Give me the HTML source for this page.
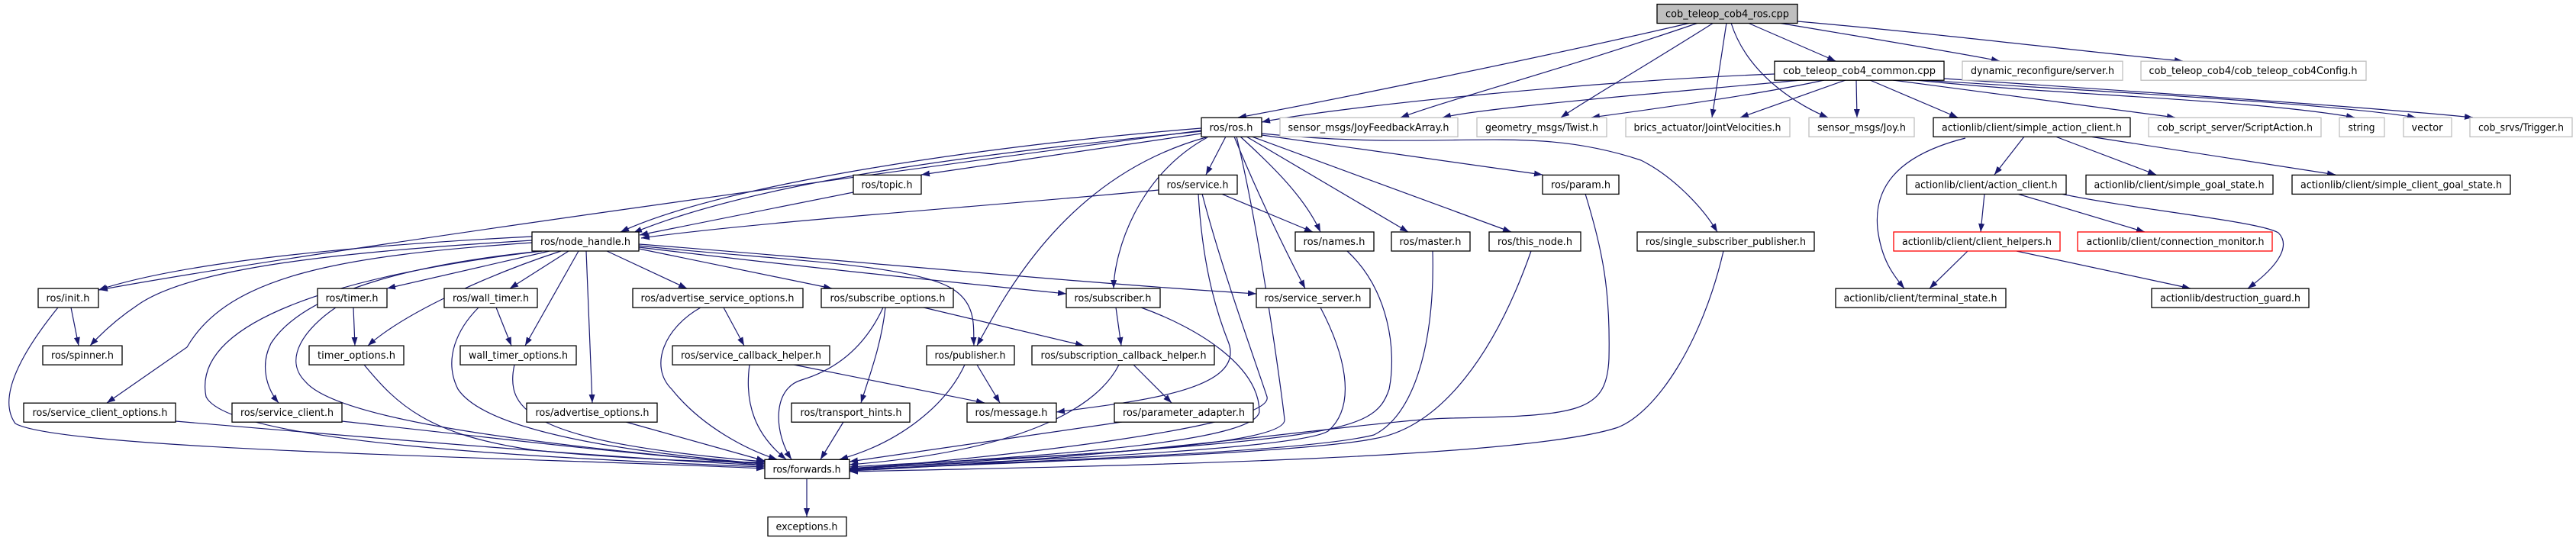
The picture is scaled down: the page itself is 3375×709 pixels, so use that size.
<!DOCTYPE html>
<html><head><meta charset="utf-8"><style>
html,body{margin:0;padding:0;background:#fff;}
svg{display:block;}
text{font-family:"DejaVu Sans","Liberation Sans",sans-serif;font-size:13px;fill:#000;}
.n{fill:#fff;stroke:#000;stroke-width:1.3;}
.g{fill:#fff;stroke:#bfbfbf;stroke-width:1.3;}
.r{fill:#fff;stroke:#ff0000;stroke-width:1.3;}
.e{fill:none;stroke:#191970;stroke-width:1.2;marker-end:url(#a);}
</style></head><body>
<svg width="3375" height="709" viewBox="0 0 3375 709" xmlns="http://www.w3.org/2000/svg">
<defs><marker id="a" markerUnits="userSpaceOnUse" markerWidth="11" markerHeight="8" refX="11" refY="4" orient="auto"><path d="M0,0 L11,4 L0,8 z" fill="#191970"/></marker></defs>
<g>
<!-- top -->
<path class="e" d="M2215,30 C2000,80 1700,140 1622,154"/>
<path class="e" d="M2225,30 C2050,90 1900,130 1835,154"/>
<path class="e" d="M2245,30 C2150,90 2080,130 2045,154"/>
<path class="e" d="M2262,30 L2243,154"/>
<path class="e" d="M2268,30 C2290,100 2360,140 2395,154"/>
<path class="e" d="M2290,30 L2405,80"/>
<path class="e" d="M2330,30 C2450,50 2570,70 2620,80"/>
<path class="e" d="M2355,28 C2550,45 2750,70 2860,80"/>
<!-- common -->
<path class="e" d="M2325,97 C2100,105 1750,140 1653,160"/>
<path class="e" d="M2360,105 C2200,120 1950,140 1890,154"/>
<path class="e" d="M2390,105 C2300,125 2150,145 2085,154"/>
<path class="e" d="M2418,105 L2280,154"/>
<path class="e" d="M2432,105 L2433,154"/>
<path class="e" d="M2450,105 L2565,154"/>
<path class="e" d="M2480,105 L2850,154"/>
<path class="e" d="M2510,105 C2700,125 2950,130 3085,154"/>
<path class="e" d="M2520,105 C2750,120 3050,135 3165,154"/>
<path class="e" d="M2547,103 C2800,120 3100,140 3240,154"/>
<!-- actionlib -->
<path class="e" d="M2652,179 L2613,229"/>
<path class="e" d="M2693,179 L2825,229"/>
<path class="e" d="M2738,179 L3060,229"/>
<path class="e" d="M2575,181 C2480,205 2455,250 2460,300 C2465,340 2480,360 2495,378"/>
<path class="e" d="M2600,254 L2595,304"/>
<path class="e" d="M2643,254 L2810,304"/>
<path class="e" d="M2700,254 C2800,275 2960,290 2985,305 C3000,320 2990,345 2945,378"/>
<path class="e" d="M2578,329 L2528,378"/>
<path class="e" d="M2642,329 L2870,378"/>
<!-- ros.h -->
<path class="e" d="M1574,171 C1200,220 400,330 130,380"/>
<path class="e" d="M1574,168 C1300,190 950,240 813,304"/>
<path class="e" d="M1574,172 C1300,200 1000,235 830,305"/>
<path class="e" d="M1574,175 L1207,229"/>
<path class="e" d="M1606,179 L1580,229"/>
<path class="e" d="M1580,180 C1400,230 1320,380 1280,453"/>
<path class="e" d="M1582,180 C1490,230 1460,330 1459,378"/>
<path class="e" d="M1625,179 C1670,220 1710,260 1730,304"/>
<path class="e" d="M1633,179 L1845,304"/>
<path class="e" d="M1640,179 L1980,304"/>
<path class="e" d="M1653,177 L2021,229"/>
<path class="e" d="M1653,175 C1900,200 2000,160 2150,210 C2190,230 2230,270 2250,304"/>
<path class="e" d="M1617,179 C1650,260 1690,340 1710,378"/>
<path class="e" d="M1620,179 C1650,300 1680,520 1683,550 C1685,590 1300,600 1113,612"/>
<!-- topic/service -->
<path class="e" d="M1118,252 L838,308"/>
<path class="e" d="M1518,249 C1300,270 1000,290 840,312"/>
<path class="e" d="M1600,254 L1720,304"/>
<path class="e" d="M1570,254 C1575,340 1590,400 1610,450 C1630,510 1500,525 1384,540"/>
<path class="e" d="M1575,254 C1600,350 1640,460 1660,520 C1670,560 1300,600 1113,615"/>
<!-- node_handle -->
<path class="e" d="M697,310 C500,320 250,340 129,380"/>
<path class="e" d="M697,315 C450,330 250,350 180,400 C150,420 130,440 118,453"/>
<path class="e" d="M697,318 C450,335 300,360 245,455 L140,528"/>
<path class="e" d="M710,329 C550,345 400,380 355,450 C340,480 350,510 365,528"/>
<path class="e" d="M720,329 L507,378"/>
<path class="e" d="M735,329 C640,360 530,410 482,453"/>
<path class="e" d="M745,329 L668,378"/>
<path class="e" d="M758,329 L688,453"/>
<path class="e" d="M768,329 L776,528"/>
<path class="e" d="M795,329 L900,378"/>
<path class="e" d="M837,326 L1090,378"/>
<path class="e" d="M837,322 C1000,340 1200,345 1250,380 C1280,400 1275,430 1276,453"/>
<path class="e" d="M837,324 C1050,350 1250,370 1397,385"/>
<path class="e" d="M837,320 C1100,340 1400,370 1646,385"/>
<path class="e" d="M710,329 C450,360 250,420 270,520 C300,580 700,600 1002,612"/>
<!-- lower -->
<path class="e" d="M93,403 L103,453"/>
<path class="e" d="M76,403 C30,460 -5,520 20,555 C80,590 700,600 1002,614"/>
<path class="e" d="M463,403 L465,453"/>
<path class="e" d="M440,403 C400,430 370,470 400,500 C450,560 800,590 1002,610"/>
<path class="e" d="M650,403 L670,453"/>
<path class="e" d="M627,403 C600,430 580,470 600,510 C640,570 850,595 1002,608"/>
<path class="e" d="M477,478 C520,530 560,570 700,590 C800,600 900,605 1002,606"/>
<path class="e" d="M674,478 C660,540 700,580 1002,605"/>
<path class="e" d="M230,552 C500,575 800,600 1002,610"/>
<path class="e" d="M448,552 C700,580 850,598 1002,608"/>
<path class="e" d="M820,553 L1002,604"/>
<path class="e" d="M948,403 L975,453"/>
<path class="e" d="M918,403 C870,430 850,480 880,510 C920,560 980,590 1018,602"/>
<path class="e" d="M1160,403 C1155,450 1140,490 1128,528"/>
<path class="e" d="M1210,403 L1420,453"/>
<path class="e" d="M1157,403 C1140,440 1110,480 1050,498 C1010,510 1015,570 1037,602"/>
<path class="e" d="M982,478 C975,530 990,570 1030,602"/>
<path class="e" d="M1040,478 L1290,528"/>
<path class="e" d="M1280,478 L1310,528"/>
<path class="e" d="M1264,478 C1240,530 1180,580 1100,602"/>
<path class="e" d="M1462,403 L1469,453"/>
<path class="e" d="M1495,403 C1570,430 1650,480 1650,540 C1640,585 1300,600 1113,614"/>
<path class="e" d="M1485,478 L1535,528"/>
<path class="e" d="M1466,478 C1440,530 1350,590 1113,609"/>
<path class="e" d="M1470,553 L1113,605"/>
<path class="e" d="M1105,553 L1075,602"/>
<path class="e" d="M1730,403 C1760,460 1780,530 1740,565 C1700,590 1300,605 1113,614"/>
<path class="e" d="M1765,329 C1820,380 1830,460 1820,510 C1800,570 1750,575 1113,615"/>
<path class="e" d="M1877,329 C1880,430 1860,540 1800,570 C1700,595 1300,605 1113,616"/>
<path class="e" d="M2006,329 C1960,460 1890,560 1800,575 C1700,595 1300,607 1113,616"/>
<path class="e" d="M2077,254 C2100,330 2110,380 2108,470 C2105,540 2070,545 1900,548 C1800,550 1500,600 1113,617"/>
<path class="e" d="M2258,329 C2230,450 2170,540 2120,560 C2000,600 1500,610 1113,618"/>
<path class="e" d="M1057,627 L1057,677"/>
</g>
<g>
<rect x="2171" y="5.5" width="184" height="25" fill="#bfbfbf" stroke="#000" stroke-width="1.3"/><text x="2263" y="22.5" text-anchor="middle" textLength="162" lengthAdjust="spacingAndGlyphs">cob_teleop_cob4_ros.cpp</text>
<rect class="n" x="2325" y="80.2" width="222" height="25"/><text x="2436" y="97.2" text-anchor="middle" textLength="200" lengthAdjust="spacingAndGlyphs">cob_teleop_cob4_common.cpp</text>
<rect class="g" x="2571" y="80.2" width="210" height="25"/><text x="2676" y="97.2" text-anchor="middle" textLength="188" lengthAdjust="spacingAndGlyphs">dynamic_reconfigure/server.h</text>
<rect class="g" x="2805" y="80.2" width="295" height="25"/><text x="2952" y="97.2" text-anchor="middle" textLength="273" lengthAdjust="spacingAndGlyphs">cob_teleop_cob4/cob_teleop_cob4Config.h</text>

<rect class="n" x="1574" y="154.3" width="79" height="25"/><text x="1613" y="171.3" text-anchor="middle" textLength="57" lengthAdjust="spacingAndGlyphs">ros/ros.h</text>
<rect class="g" x="1677" y="154.3" width="233" height="25"/><text x="1793" y="171.3" text-anchor="middle" textLength="211" lengthAdjust="spacingAndGlyphs">sensor_msgs/JoyFeedbackArray.h</text>
<rect class="g" x="1935" y="154.3" width="170" height="25"/><text x="2020" y="171.3" text-anchor="middle" textLength="148" lengthAdjust="spacingAndGlyphs">geometry_msgs/Twist.h</text>
<rect class="g" x="2130" y="154.3" width="215" height="25"/><text x="2237" y="171.3" text-anchor="middle" textLength="193" lengthAdjust="spacingAndGlyphs">brics_actuator/JointVelocities.h</text>
<rect class="g" x="2370" y="154.3" width="138" height="25"/><text x="2439" y="171.3" text-anchor="middle" textLength="116" lengthAdjust="spacingAndGlyphs">sensor_msgs/Joy.h</text>
<rect class="n" x="2533" y="154.3" width="258" height="25"/><text x="2662" y="171.3" text-anchor="middle" textLength="236" lengthAdjust="spacingAndGlyphs">actionlib/client/simple_action_client.h</text>
<rect class="g" x="2815" y="154.3" width="226" height="25"/><text x="2928" y="171.3" text-anchor="middle" textLength="204" lengthAdjust="spacingAndGlyphs">cob_script_server/ScriptAction.h</text>
<rect class="g" x="3065" y="154.3" width="59" height="25"/><text x="3094" y="171.3" text-anchor="middle" textLength="35" lengthAdjust="spacingAndGlyphs">string</text>
<rect class="g" x="3149" y="154.3" width="63" height="25"/><text x="3180" y="171.3" text-anchor="middle" textLength="41" lengthAdjust="spacingAndGlyphs">vector</text>
<rect class="g" x="3236" y="154.3" width="134" height="25"/><text x="3303" y="171.3" text-anchor="middle" textLength="112" lengthAdjust="spacingAndGlyphs">cob_srvs/Trigger.h</text>

<rect class="n" x="1118" y="229.4" width="89" height="25"/><text x="1162" y="246.4" text-anchor="middle" textLength="67" lengthAdjust="spacingAndGlyphs">ros/topic.h</text>
<rect class="n" x="1518" y="229.4" width="103" height="25"/><text x="1569" y="246.4" text-anchor="middle" textLength="81" lengthAdjust="spacingAndGlyphs">ros/service.h</text>
<rect class="n" x="2021" y="229.4" width="100" height="25"/><text x="2071" y="246.4" text-anchor="middle" textLength="78" lengthAdjust="spacingAndGlyphs">ros/param.h</text>
<rect class="n" x="2498" y="229.4" width="209" height="25"/><text x="2602" y="246.4" text-anchor="middle" textLength="187" lengthAdjust="spacingAndGlyphs">actionlib/client/action_client.h</text>
<rect class="n" x="2733" y="229.4" width="245" height="25"/><text x="2855" y="246.4" text-anchor="middle" textLength="223" lengthAdjust="spacingAndGlyphs">actionlib/client/simple_goal_state.h</text>
<rect class="n" x="3003" y="229.4" width="286" height="25"/><text x="3146" y="246.4" text-anchor="middle" textLength="264" lengthAdjust="spacingAndGlyphs">actionlib/client/simple_client_goal_state.h</text>

<rect class="n" x="697" y="304" width="140" height="25"/><text x="767" y="321" text-anchor="middle" textLength="118" lengthAdjust="spacingAndGlyphs">ros/node_handle.h</text>
<rect class="n" x="1697" y="304" width="103" height="25"/><text x="1748" y="321" text-anchor="middle" textLength="81" lengthAdjust="spacingAndGlyphs">ros/names.h</text>
<rect class="n" x="1823" y="304" width="103" height="25"/><text x="1874" y="321" text-anchor="middle" textLength="81" lengthAdjust="spacingAndGlyphs">ros/master.h</text>
<rect class="n" x="1951" y="304" width="120" height="25"/><text x="2011" y="321" text-anchor="middle" textLength="98" lengthAdjust="spacingAndGlyphs">ros/this_node.h</text>
<rect class="n" x="2145" y="304" width="232" height="25"/><text x="2261" y="321" text-anchor="middle" textLength="210" lengthAdjust="spacingAndGlyphs">ros/single_subscriber_publisher.h</text>
<rect class="r" x="2481" y="304" width="218" height="25"/><text x="2590" y="321" text-anchor="middle" textLength="196" lengthAdjust="spacingAndGlyphs">actionlib/client/client_helpers.h</text>
<rect class="r" x="2722" y="304" width="255" height="25"/><text x="2850" y="321" text-anchor="middle" textLength="233" lengthAdjust="spacingAndGlyphs">actionlib/client/connection_monitor.h</text>

<rect class="n" x="50" y="378.1" width="79" height="25"/><text x="89" y="395.1" text-anchor="middle" textLength="57" lengthAdjust="spacingAndGlyphs">ros/init.h</text>
<rect class="n" x="416" y="378.1" width="91" height="25"/><text x="461" y="395.1" text-anchor="middle" textLength="69" lengthAdjust="spacingAndGlyphs">ros/timer.h</text>
<rect class="n" x="582" y="378.1" width="122" height="25"/><text x="643" y="395.1" text-anchor="middle" textLength="100" lengthAdjust="spacingAndGlyphs">ros/wall_timer.h</text>
<rect class="n" x="829" y="378.1" width="223" height="25"/><text x="940" y="395.1" text-anchor="middle" textLength="201" lengthAdjust="spacingAndGlyphs">ros/advertise_service_options.h</text>
<rect class="n" x="1076" y="378.1" width="173" height="25"/><text x="1163" y="395.1" text-anchor="middle" textLength="151" lengthAdjust="spacingAndGlyphs">ros/subscribe_options.h</text>
<rect class="n" x="1397" y="378.1" width="123" height="25"/><text x="1458" y="395.1" text-anchor="middle" textLength="101" lengthAdjust="spacingAndGlyphs">ros/subscriber.h</text>
<rect class="n" x="1646" y="378.1" width="149" height="25"/><text x="1720" y="395.1" text-anchor="middle" textLength="127" lengthAdjust="spacingAndGlyphs">ros/service_server.h</text>
<rect class="n" x="2405" y="378.1" width="223" height="25"/><text x="2516" y="395.1" text-anchor="middle" textLength="201" lengthAdjust="spacingAndGlyphs">actionlib/client/terminal_state.h</text>
<rect class="n" x="2819" y="378.1" width="206" height="25"/><text x="2922" y="395.1" text-anchor="middle" textLength="184" lengthAdjust="spacingAndGlyphs">actionlib/destruction_guard.h</text>

<rect class="n" x="56" y="453.1" width="104" height="25"/><text x="108" y="470.1" text-anchor="middle" textLength="82" lengthAdjust="spacingAndGlyphs">ros/spinner.h</text>
<rect class="n" x="405" y="453.1" width="124" height="25"/><text x="467" y="470.1" text-anchor="middle" textLength="102" lengthAdjust="spacingAndGlyphs">timer_options.h</text>
<rect class="n" x="603" y="453.1" width="152" height="25"/><text x="679" y="470.1" text-anchor="middle" textLength="130" lengthAdjust="spacingAndGlyphs">wall_timer_options.h</text>
<rect class="n" x="881" y="453.1" width="206" height="25"/><text x="984" y="470.1" text-anchor="middle" textLength="184" lengthAdjust="spacingAndGlyphs">ros/service_callback_helper.h</text>
<rect class="n" x="1214" y="453.1" width="115" height="25"/><text x="1271" y="470.1" text-anchor="middle" textLength="93" lengthAdjust="spacingAndGlyphs">ros/publisher.h</text>
<rect class="n" x="1352" y="453.1" width="239" height="25"/><text x="1472" y="470.1" text-anchor="middle" textLength="217" lengthAdjust="spacingAndGlyphs">ros/subscription_callback_helper.h</text>

<rect class="n" x="31" y="528.2" width="199" height="25"/><text x="131" y="545.2" text-anchor="middle" textLength="177" lengthAdjust="spacingAndGlyphs">ros/service_client_options.h</text>
<rect class="n" x="304" y="528.2" width="144" height="25"/><text x="376" y="545.2" text-anchor="middle" textLength="122" lengthAdjust="spacingAndGlyphs">ros/service_client.h</text>
<rect class="n" x="690" y="528.2" width="171" height="25"/><text x="776" y="545.2" text-anchor="middle" textLength="149" lengthAdjust="spacingAndGlyphs">ros/advertise_options.h</text>
<rect class="n" x="1037" y="528.2" width="155" height="25"/><text x="1115" y="545.2" text-anchor="middle" textLength="133" lengthAdjust="spacingAndGlyphs">ros/transport_hints.h</text>
<rect class="n" x="1267" y="528.2" width="117" height="25"/><text x="1325" y="545.2" text-anchor="middle" textLength="95" lengthAdjust="spacingAndGlyphs">ros/message.h</text>
<rect class="n" x="1460" y="528.2" width="182" height="25"/><text x="1551" y="545.2" text-anchor="middle" textLength="160" lengthAdjust="spacingAndGlyphs">ros/parameter_adapter.h</text>

<rect class="n" x="1002" y="602.3" width="111" height="25"/><text x="1057" y="619.3" text-anchor="middle" textLength="89" lengthAdjust="spacingAndGlyphs">ros/forwards.h</text>
<rect class="n" x="1006" y="677.5" width="103" height="25"/><text x="1057" y="694.5" text-anchor="middle" textLength="81" lengthAdjust="spacingAndGlyphs">exceptions.h</text>
</g>
</svg>
</body></html>
